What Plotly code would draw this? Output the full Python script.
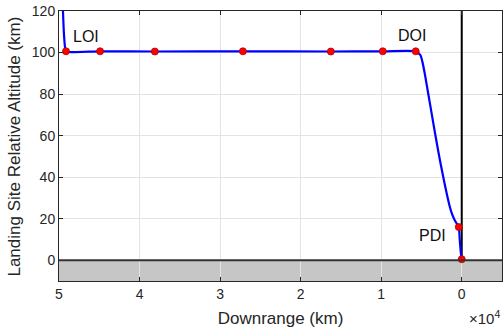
import plotly.graph_objects as go

# Trajectory (downrange in km, altitude in km)
path_x = [49700, 49560, 49400, 49250, 49130, 44900, 38100, 27170, 16250, 9800, 5710,
          5420, 5120, 4880, 4590, 4300, 3970, 3350, 2730, 2110,
          1490, 1150, 870, 580, 370, 250, 120, 0]
path_y = [135, 125, 110, 102.5, 100.6, 100.6, 100.5, 100.6, 100.5, 100.6, 100.6,
          99.8, 98.7, 95.5, 89.9, 83.4, 76.0, 62.0, 48.6, 36.6,
          25.9, 21.7, 19.3, 17.4, 16.0, 10, 4, 0]

# Event markers
event_x = [49130, 44900, 38100, 27170, 16250, 9800, 5710, 370, 0]
event_y = [100.6, 100.6, 100.5, 100.6, 100.5, 100.6, 100.6, 16.0, 0.5]

labels = ["LOI", "DOI", "PDI"]
label_x = [46600, 6200, 3600]
label_y = [107.5, 108.3, 12.0]

x_ticks = [50000, 40000, 30000, 20000, 10000, 0]
x_ticktext = ["5", "4", "3", "2", "1", "0"]
y_ticks = [0, 20, 40, 60, 80, 100, 120]

axis_color = "#262626"
grid_color = "#e3e3e3"
font = "Liberation Sans, Arial, sans-serif"

fig = go.Figure()

fig.add_trace(go.Scatter(
    x=path_x, y=path_y, mode="lines",
    line=dict(color="#0000ff", width=2.2, shape="spline", smoothing=0.7),
    showlegend=False, hoverinfo="skip"))

fig.add_trace(go.Scatter(
    x=event_x, y=event_y, mode="markers",
    marker=dict(color="#ff0000", size=7, line=dict(color="#b00000", width=0.8)),
    showlegend=False, cliponaxis=False))

for t, lx, ly in zip(labels, label_x, label_y):
    fig.add_annotation(x=lx, y=ly, text=t, showarrow=False,
                       font=dict(family=font, size=16, color="#111111"))

# Ground region below zero altitude
fig.add_shape(type="rect", xref="paper", x0=0, x1=1, yref="y", y0=-10, y1=0,
              fillcolor="#c6c6c6", line=dict(width=0), layer="between")
fig.add_shape(type="line", xref="paper", x0=0, x1=1, yref="y", y0=0, y1=0,
              line=dict(color="#333333", width=2), layer="above")
fig.add_shape(type="line", xref="x", x0=0, x1=0, yref="y", y0=0, y1=120,
              line=dict(color="#000000", width=2), layer="between")

# Axis exponent and y-axis title
fig.add_annotation(xref="paper", yref="paper", x=1.0, y=-0.137, xanchor="right",
                   yanchor="middle", text="×10<sup>4</sup>", showarrow=False,
                   font=dict(family=font, size=15, color=axis_color))
fig.add_annotation(xref="paper", yref="paper", x=-0.0993, y=0.498, xanchor="center",
                   yanchor="middle", text="Landing Site Relative Altitude (km)",
                   textangle=-90, showarrow=False,
                   font=dict(family=font, size=17, color=axis_color))

fig.update_layout(
    width=503, height=332,
    margin=dict(l=59, r=1, t=11, b=51),
    paper_bgcolor="white", plot_bgcolor="white",
    font=dict(family=font, size=14, color=axis_color),
    xaxis=dict(range=[50000, -5000], tickvals=x_ticks, ticktext=x_ticktext,
               showgrid=True, gridcolor=grid_color, gridwidth=1,
               showline=True, linecolor=axis_color, linewidth=1, mirror="ticks",
               ticks="inside", ticklen=4, tickcolor=axis_color, zeroline=False,
               title=dict(text="Downrange (km)", font=dict(size=17), standoff=11),
               tickfont=dict(size=14)),
    yaxis=dict(range=[-10, 120], tickvals=y_ticks,
               showgrid=True, gridcolor=grid_color, gridwidth=1,
               showline=True, linecolor=axis_color, linewidth=1, mirror="ticks",
               ticks="inside", ticklen=4, tickcolor=axis_color, zeroline=False,
               tickfont=dict(size=14)),
)

fig.write_html("out.html")
